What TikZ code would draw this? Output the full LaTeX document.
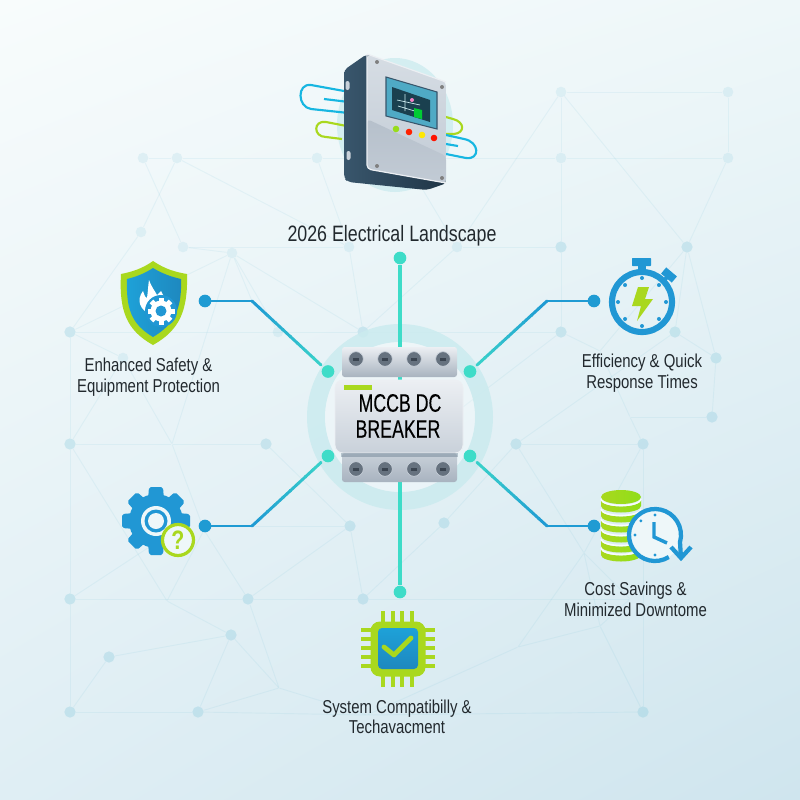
\documentclass[tikz,border=0pt]{standalone}
\usepackage{fontspec}
\setmainfont[FakeStretch=0.8]{Liberation Sans}
\newfontfamily\breakerfont[FakeStretch=0.7,FakeBold=0.25]{Liberation Sans}
\usetikzlibrary{calc,shadings}
\definecolor{bluewire}{HTML}{1F9BD3}
\definecolor{tealwire}{HTML}{3EDCC8}
\definecolor{limeicon}{HTML}{A9D81E}
\definecolor{blueicon}{HTML}{2197D4}
\definecolor{netblue}{HTML}{6FBFD6}
\definecolor{inktext}{HTML}{22292E}
\definecolor{paleteal}{HTML}{CBEBEF}
\definecolor{bgupleft}{HTML}{F8FCFC}
\definecolor{bgupright}{HTML}{EEF7F9}
\definecolor{bglowleft}{HTML}{DFEEF4}
\definecolor{bglowright}{HTML}{CFE5EE}
\definecolor{steelhi}{HTML}{ECEFF3}
\definecolor{steelmid}{HTML}{C9D1DA}
\definecolor{steellow}{HTML}{A8B3BF}
\definecolor{facetop}{HTML}{D6DDE4}
\definecolor{facemid}{HTML}{C2CBD5}
\definecolor{facelow}{HTML}{B6C0CB}
\definecolor{cabdark}{HTML}{1F3546}
\definecolor{cabmid}{HTML}{39566C}
\definecolor{screwgrey}{HTML}{66727F}
\definecolor{screwslot}{HTML}{3A4450}
\tikzset{
	netnode/.style={circle,fill=netblue,fill opacity=0.26,inner sep=0pt,minimum size=8.5pt},
	netfaint/.style={circle,fill=netblue,fill opacity=0.14,inner sep=0pt,minimum size=8pt},
	netjoint/.style={circle,inner sep=0pt,minimum size=0.5pt},
	netline/.style={draw=netblue,opacity=0.11,line width=0.7pt},
	bluedot/.style={circle,fill=bluewire,inner sep=0pt,minimum size=9.5pt},
	tealdot/.style={circle,fill=tealwire,inner sep=0pt,minimum size=9.5pt},
	caption/.style={text=inktext,align=center,font=\fontsize{14}{15.4}\selectfont,inner sep=0pt},
	screwhead/.style={circle,draw=steelmid,line width=0.5pt,fill=screwgrey,inner sep=0pt,minimum size=11pt},
	breakertext/.style={text=black,inner sep=0pt,font=\breakerfont\fontsize{19}{19}\selectfont},
}
\newcommand{\wirerun}[3]{%
	\draw[bluewire,line width=2.2pt,line cap=round,line join=round] (#1.center) -- (#2);
	\foreach \s [evaluate=\s as \e using \s+0.11,evaluate=\s as \p using 100-\s*100] in {0,0.1,...,0.9}
		\draw[bluewire!\p!tealwire,line width=2.2pt,line cap=round] ($(#2)!\s!(#3.center)$) -- ($(#2)!\e!(#3.center)$);
}
\begin{document}
\begin{tikzpicture}[x=0.75pt,y=0.75pt,yscale=-1,xscale=1]
	\useasboundingbox (0,0) rectangle (800,800);
	\shade[upper left=bgupleft,upper right=bgupright,lower left=bglowleft,lower right=bglowright] (0,0) rectangle (800,800);

	\foreach \n/\x/\y in {nA/143/158,nB/177/158,nC/317/158,nD/141/232,nE/183/247,nF/232/253,nG/349/247,nI/278/332,nK/123/358,nL/561/92,nM/728/92,nN/561/158,nO/728/158,nR/457/247}
		\node[netfaint] (\n) at (\x,\y) {};
	\foreach \n/\x/\y in {nH/70/332,nJ/363/332,nP/561/247,nQ/687/247,nS/561/332,nT/675/332,nU/716/358,nV/712/417,nLa/70/444,nLb/266/444,nLd/350/526,nLe/70/599,nLf/248/599,nLg/363/599,nLi/231/635,nLj/109/657,nLk/70/712,nLl/198/712,nLo/516/444,nLp/643/444,nLq/643/712,nLr/444/523}
		\node[netnode] (\n) at (\x,\y) {};
	\foreach \n/\x/\y in {jc/172/444,jh/167/601,jm/279/688,jn/367/715,js/584/553,jt/600/626,ju/518/647,jw/600/351,jx/630/417,jy/463/407,jz/160/540,jk/204/530,jaa/630/599,jbb/423/190,jbd/252/301,jbe/252/526}
		\node[netjoint] (\n) at (\x,\y) {};
	\foreach \a/\b in {nA/nB,nB/nC,nC/nN,nN/nO,nL/nM,nM/nO,nL/nN,nN/nP,nP/nS,nL/nQ,nO/nQ,nQ/nT,nQ/nU,nT/nU,nU/nV,nR/nL,nP/nR,nE/nG,nA/nE,nB/nG,nC/nG,nB/nD,nD/nH,nF/nH,nF/nJ,nG/nJ,nH/nJ,nJ/nS,nE/nF,nF/nI,nF/jc,nF/jbd,nH/nK,nK/jc,nLa/nK,nH/nLa,nLa/jc,jc/nLb,nLa/jh,nLa/nLe,nLe/nLk,nLe/nLf,nLf/nLg,nLe/jz,jc/jk,jk/nLf,jk/jh,nLf/nLd,nLd/nLb,nLg/nLd,jbe/nLd,jh/nLi,nLi/nLj,nLj/nLk,nLi/nLl,nLi/jm,nLf/jm,nLl/jm,nLk/nLl,nLl/jn,jn/nLq,jm/jn,nLg/nLr,nLr/nLo,nLo/nLp,nLp/nLq,nLo/js,nLp/js,js/ju,js/jt,jt/nLq,jt/ju,ju/jn,nLg/jaa,js/jaa,jt/jaa,nLo/nT,nS/jw,jw/nQ,jw/jx,jx/nV,jx/nLp,nS/jy,nR/nJ,nR/jbb}
		\draw[netline] (\a) -- (\b);

	\fill[paleteal,opacity=0.75] (395,125) ellipse (58 and 67);
	\draw[blueicon!70!cyan,line width=1.6pt] (344,91) -- (311,85) .. controls (297,83) and (297,107) .. (311,109) -- (358,114);
	\draw[blueicon!70!cyan,line width=1.6pt] (324,99) -- (357,103);
	\draw[limeicon,line width=1.6pt] (357,128) -- (326,122) .. controls (313,120) and (313,137) .. (326,137) -- (342,139);
	\draw[limeicon,line width=1.6pt] (446,117) -- (453,119) .. controls (465,122) and (465,133) .. (454,134) -- (446,134);
	\draw[blueicon!70!cyan,line width=1.6pt] (446,135) -- (464,139) .. controls (480,142) and (480,160) .. (466,158) -- (446,154);
	\draw[blueicon!70!cyan,line width=1.6pt] (446,144) -- (458,146);
	\path[left color=cabmid,right color=cabdark,rounded corners=3pt] (344,70) -- (367,54) -- (400,70) -- (447,183) -- (427,190) -- (348,182) -- (344,178) -- cycle;
	\fill[steelmid,rounded corners=1.5pt] (345.5,81) rectangle (349.5,90);
	\fill[steelmid,rounded corners=1.5pt] (346.5,151) rectangle (350.5,160);
	\path[top color=facetop,bottom color=facemid,rounded corners=3pt] (367,54) -- (446,82) -- (446,183) -- (367,169) -- cycle;
	\path[top color=facelow,bottom color=facemid,rounded corners=3pt] (367,119) -- (446,156) -- (446,183) -- (367,169) -- cycle;
	\draw[steelhi,line width=0.9pt,rounded corners=3pt] (367,54) -- (446,82) (367,54) -- (367,169) -- (446,183);
	\fill[blueicon!60!teal!75!white,draw=cabmid,line width=0.8pt] (386,77) -- (437,92) -- (437,129) -- (386,116) -- cycle;
	\fill[cabdark!85!teal] (392,87) -- (430,100) -- (430,122) -- (392,110) -- cycle;
	\draw[paleteal,line width=0.5pt] (397,100) -- (420,105) (398,106) -- (418,112) (405,94) -- (405,111);
	\fill[green!60!teal] (414,108) -- (422,110) -- (422,119) -- (414,117) -- cycle;
	\fill[magenta!50!white] (412,100) circle (2);
	\fill[limeicon!90!green] (396,129) circle (3.3);
	\fill[red!75!orange] (409,132) circle (3.3);
	\fill[yellow!90!orange] (422,135) circle (3.3);
	\fill[red!85!orange] (434,138) circle (3.3);
	\foreach \x/\y in {377/62,442/87,377/166,442/178}
		\fill[gray] (\x,\y) circle (2);

	\node[caption,font=\fontsize{16.7}{18}\selectfont] (landscapelabel) at (392,235.5) {2026 Electrical Landscape};
	\node[caption] (safetylabel) at (148.5,377) {Enhanced Safety \&\\Equipment Protection};
	\node[caption] (efficiencylabel) at (642,373) {Efficiency \& Quick\\Response Times};
	\node[caption] (costlabel) at (635.5,599.5) {Cost Savings \&\\Minimized Downtome};
	\node[caption] (systemlabel) at (397,717) {System Compatibilly \&\\Techavacment};

	\fill[paleteal,opacity=0.85,even odd rule] (400,417) circle (93) (400,417) circle (75);
	\fill[white,opacity=0.3] (400,417) circle (75);

	\node[bluedot] (safetydot) at (205,301) {};
	\node[bluedot] (efficiencydot) at (594,301) {};
	\node[bluedot] (gearhelpdot) at (205,526) {};
	\node[bluedot] (costdot) at (594,526) {};
	\node[tealdot] (topdot) at (400,258) {};
	\node[tealdot] (bottomdot) at (400,592) {};
	\node[tealdot] (safetyend) at (328,371.5) {};
	\node[tealdot] (efficiencyend) at (470,371.5) {};
	\node[tealdot] (gearhelpend) at (328,456) {};
	\node[tealdot] (costend) at (470,456) {};
	\draw[tealwire,line width=2.4pt] (topdot) -- (bottomdot);
	\wirerun{safetydot}{252,301}{safetyend}
	\wirerun{efficiencydot}{547,301}{efficiencyend}
	\wirerun{gearhelpdot}{252,526}{gearhelpend}
	\wirerun{costdot}{547,526}{costend}

	\path[top color=steelhi,bottom color=steellow,rounded corners=2pt] (342,347) rectangle (457,377);
	\path[top color=steelmid,bottom color=steellow,rounded corners=2pt] (342,453) rectangle (457,482);
	\path[top color=steelhi,bottom color=steelmid,rounded corners=6pt,draw=steelhi,line width=0.6pt] (335,380) rectangle (463,453);
	\fill[cabmid,opacity=0.3] (341,453) rectangle (458,457);
	\fill[limeicon] (344,385) rectangle (372,390);
	\foreach \x in {356,385,414,443} {
		\node[screwhead] (screwtop\x) at (\x,359) {};
		\node[screwhead] (screwlow\x) at (\x,469) {};
		\fill[screwslot] (\x-3,357.5) rectangle (\x+3,360.5);
		\fill[screwslot] (\x-3,467.5) rectangle (\x+3,470.5);
	}
	\node[breakertext] (breakerone) at (400,403) {MCCB DC};
	\node[breakertext] (breakertwo) at (398,429) {BREAKER};

	\path[fill=limeicon] (153,261) .. controls (165,269) and (175,272) .. (187,274) .. controls (188,310) and (180,330) .. (153,345) .. controls (126,330) and (119,310) .. (121,274) .. controls (131,272) and (142,269) .. (153,261) -- cycle;
	\path[left color=blueicon!90!cyan,right color=blueicon!90!black] (153,268) .. controls (163,274) and (172,277) .. (181,279) .. controls (182,308) and (175,324) .. (153,337) .. controls (131,324) and (126,308) .. (127,279) .. controls (135,277) and (144,274) .. (153,268) -- cycle;
	\fill[white] (149,280) .. controls (152,288) and (155,291) .. (157,295) .. controls (159,293) and (160,292) .. (161,291) .. controls (164,296) and (166,301) .. (164,306) -- (150,314) .. controls (140,310) and (136,300) .. (143,291) .. controls (145,296) and (145,298) .. (147,298) .. controls (148,292) and (148,286) .. (149,280) -- cycle;
	\fill[blueicon] (161,311) circle (16);
	\foreach \t in {0,45,...,315}
		\fill[white,rotate around={\t:(161,311)}] (158.5,297.5) rectangle (163.5,303);
	\fill[white] (161,311) circle (10.5);
	\fill[blueicon] (161,311) circle (5.5);

	\draw[blueicon,line width=4.6pt] (642,302) circle (30);
	\fill[blueicon,rounded corners=0.5pt] (632,258) rectangle (651,266);
	\fill[blueicon] (638,266) rectangle (646,272);
	\fill[blueicon,rotate around={40:(669,275)}] (662,271) rectangle (676,279);
	\draw[blueicon,line width=3pt] (662,283) -- (668,276);
	\foreach \t in {0,45,...,315}
		\fill[blueicon] ($(642,302)+(\t:24)$) circle (2);
	\fill[limeicon] (638,287) -- (649,287) -- (645,299) -- (653,299) -- (637,321) -- (641,306) -- (632,306) -- cycle;

	\foreach \t in {0,45,...,315}
		\fill[blueicon,rounded corners=1.5pt,rotate around={\t:(156,521)}] (149,487) -- (163,487) -- (164,500) -- (148,500) -- cycle;
	\fill[blueicon] (156,521) circle (27);
	\fill[bgupright] (156,521) circle (15);
	\fill[blueicon] (156,521) circle (11.5);
	\fill[bgupright] (156,521) circle (8);
	\filldraw[draw=limeicon,fill=bgupright,line width=2.4pt] (178,540) circle (15.5);
	\node[text=limeicon,inner sep=0pt,font=\fontsize{20}{20}\selectfont\bfseries] (helpmark) at (178,540) {?};

	\foreach \y in {555,546,536,526,516,506} {
		\path[left color=limeicon,right color=limeicon!85!green] (601,\y-6) -- (601,\y) arc (180:0:20 and 6.5) -- (641,\y-6) arc (0:180:20 and 6.5) -- cycle;
		\draw[bgupleft,line width=1.2pt] (601,\y-7) arc (180:0:20 and 6.5);
	}
	\path[left color=limeicon,right color=limeicon!85!green] (621,497) ellipse (20 and 7);
	\fill[bgupright] (655,535) circle (26);
	\draw[blueicon,line width=3.2pt] ($(655,535)+(58:26)$) arc (58:376:26) -- (681,558);
	\draw[blueicon,line width=3.2pt,line join=miter] (671,547) -- (681,558) -- (691,547);
	\draw[blueicon,line width=2.6pt] (654,522) -- (654,537) -- (667,543);
	\foreach \t in {90,180,270,225}
		\fill[blueicon] ($(655,535)+(\t:20)$) circle (1.6);

	\fill[limeicon,rounded corners=7pt] (370.5,621.5) rectangle (425.5,676.5);
	\foreach \o in {383,393,402,412} {
		\fill[limeicon] (\o-1.9,611) rectangle (\o+1.9,623);
		\fill[limeicon] (\o-1.9,675) rectangle (\o+1.9,687);
	}
	\foreach \o in {630,639,648,657,666} {
		\fill[limeicon] (361,\o-1.9) rectangle (372,\o+1.9);
		\fill[limeicon] (424,\o-1.9) rectangle (435,\o+1.9);
	}
	\path[top color=blueicon!90!cyan,bottom color=blueicon!90!black,rounded corners=3pt] (378,628) rectangle (418,669);
	\draw[limeicon,line width=3.6pt,line cap=round,line join=round] (384,647) -- (394,655) -- (411,638);
\end{tikzpicture}
\end{document}
